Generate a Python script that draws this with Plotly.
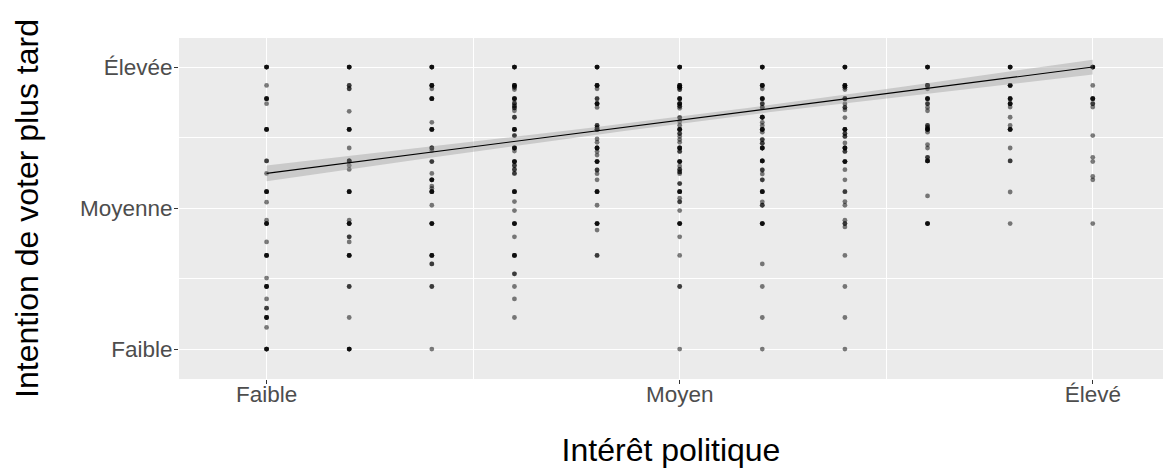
import numpy as np
import plotly.graph_objects as go

# Interest levels (x, 0 = Faible ... 1 = Élevé)
interest_levels = [0.0, 0.1, 0.2, 0.3, 0.4, 0.5, 0.6, 0.7, 0.8, 0.9, 1.0]

# Observed intention scores per interest level: (value, number of overlapping respondents)
level_0 = [(1.000, 4), (0.935, 1), (0.888, 4), (0.870, 1), (0.779, 4), (0.667, 2), (0.623, 1),
           (0.558, 4), (0.521, 1), (0.457, 1), (0.445, 4), (0.380, 1), (0.332, 4), (0.252, 1),
           (0.222, 4), (0.178, 1), (0.145, 2), (0.112, 4), (0.077, 1), (0.000, 4)]
level_1 = [(1.000, 4), (0.935, 2), (0.923, 2), (0.843, 1), (0.779, 4), (0.713, 1), (0.667, 4),
           (0.651, 1), (0.637, 1), (0.558, 4), (0.457, 1), (0.445, 4), (0.398, 2), (0.380, 1),
           (0.332, 4), (0.222, 2), (0.112, 1), (0.000, 4)]
level_2 = [(1.000, 4), (0.935, 4), (0.923, 1), (0.888, 4), (0.804, 1), (0.779, 4), (0.713, 3),
           (0.704, 1), (0.665, 2), (0.623, 1), (0.600, 4), (0.578, 1), (0.570, 1), (0.558, 4),
           (0.510, 1), (0.445, 4), (0.332, 4), (0.302, 2), (0.222, 2), (0.000, 1)]
level_3 = [(1.000, 4), (0.935, 4), (0.928, 2), (0.920, 1), (0.888, 4), (0.872, 2), (0.862, 2),
           (0.855, 2), (0.845, 1), (0.822, 2), (0.779, 4), (0.757, 2), (0.713, 4), (0.702, 1),
           (0.665, 4), (0.651, 2), (0.637, 2), (0.623, 2), (0.558, 4), (0.523, 1), (0.491, 1),
           (0.445, 4), (0.398, 1), (0.332, 4), (0.267, 2), (0.222, 1), (0.178, 1), (0.112, 1)]
level_4 = [(1.000, 4), (0.935, 4), (0.923, 1), (0.888, 2), (0.870, 4), (0.857, 1), (0.793, 2),
           (0.785, 2), (0.779, 4), (0.745, 1), (0.733, 1), (0.713, 4), (0.701, 1), (0.688, 1),
           (0.665, 4), (0.635, 2), (0.622, 1), (0.600, 1), (0.558, 4), (0.510, 1), (0.445, 4),
           (0.422, 1), (0.332, 2)]
level_5 = [(1.000, 4), (0.935, 4), (0.928, 4), (0.920, 2), (0.888, 4), (0.870, 4), (0.861, 2),
           (0.854, 1), (0.821, 2), (0.807, 1), (0.794, 1), (0.779, 4), (0.764, 2), (0.754, 1),
           (0.743, 1), (0.733, 1), (0.713, 4), (0.701, 2), (0.665, 4), (0.649, 1), (0.637, 2),
           (0.628, 2), (0.622, 1), (0.587, 2), (0.558, 4), (0.535, 1), (0.522, 2), (0.491, 1),
           (0.445, 4), (0.398, 1), (0.332, 1), (0.222, 2), (0.000, 1)]
level_6 = [(1.000, 4), (0.935, 4), (0.923, 1), (0.888, 4), (0.870, 2), (0.857, 2), (0.822, 4),
           (0.804, 1), (0.793, 1), (0.779, 4), (0.769, 1), (0.743, 2), (0.730, 2), (0.713, 4),
           (0.667, 4), (0.635, 2), (0.621, 1), (0.600, 2), (0.558, 4), (0.522, 1), (0.510, 2),
           (0.445, 4), (0.302, 1), (0.222, 1), (0.112, 1), (0.000, 1)]
level_7 = [(1.000, 4), (0.935, 4), (0.928, 2), (0.920, 1), (0.888, 4), (0.870, 1), (0.857, 2),
           (0.848, 1), (0.821, 1), (0.779, 4), (0.764, 2), (0.754, 2), (0.731, 1), (0.713, 4),
           (0.701, 2), (0.665, 4), (0.636, 1), (0.600, 1), (0.558, 2), (0.523, 1), (0.510, 1),
           (0.457, 1), (0.445, 2), (0.433, 1), (0.332, 1), (0.222, 1), (0.112, 1), (0.000, 1)]
level_8 = [(1.000, 4), (0.935, 4), (0.923, 1), (0.888, 4), (0.870, 2), (0.857, 1), (0.845, 1),
           (0.793, 2), (0.785, 2), (0.779, 4), (0.769, 1), (0.725, 1), (0.713, 1), (0.680, 2),
           (0.667, 4), (0.543, 1), (0.445, 4)]
level_9 = [(1.000, 4), (0.935, 4), (0.888, 4), (0.870, 4), (0.858, 1), (0.822, 1), (0.793, 1),
           (0.779, 4), (0.713, 1), (0.667, 2), (0.557, 1), (0.445, 1)]
level_10 = [(1.000, 4), (0.935, 1), (0.888, 4), (0.870, 2), (0.858, 1), (0.757, 1), (0.680, 1),
            (0.665, 1), (0.612, 1), (0.600, 1), (0.445, 1)]

levels_data = [level_0, level_1, level_2, level_3, level_4, level_5,
               level_6, level_7, level_8, level_9, level_10]

# Linear trend (geom_smooth, method = "lm")
trend_intercept = 0.623
trend_slope = 0.377
band_min_halfwidth = 0.012
band_center = 0.52
band_curvature = 0.00234

# Tick labels
x_tickvals = [0, 0.5, 1]
x_ticktext = ["Faible", "Moyen", "Élevé"]
y_tickvals = [0, 0.5, 1]
y_ticktext = ["Faible", "Moyenne", "Élevée"]

# ---------------------------------------------------------------
xs, ys = [], []
for lvl, pts in zip(interest_levels, levels_data):
    for v, n in pts:
        for _ in range(n):
            xs.append(lvl)
            ys.append(v)

xf = np.linspace(0, 1, 80)
yf = trend_intercept + trend_slope * xf
hw = np.sqrt(band_min_halfwidth ** 2 + band_curvature * (xf - band_center) ** 2)

fig = go.Figure()
fig.add_trace(go.Scatter(
    x=xs, y=ys, mode="markers",
    marker=dict(color="black", size=4.8, opacity=0.5, line=dict(width=0)),
    hoverinfo="skip", showlegend=False))
fig.add_trace(go.Scatter(
    x=np.concatenate([xf, xf[::-1]]), y=np.concatenate([yf + hw, (yf - hw)[::-1]]),
    fill="toself", fillcolor="rgba(153,153,153,0.4)", line=dict(width=0),
    mode="lines", hoverinfo="skip", showlegend=False))
fig.add_trace(go.Scatter(
    x=xf, y=yf, mode="lines", line=dict(color="black", width=1.1),
    hoverinfo="skip", showlegend=False))

font_family = "Liberation Sans, Arial, Helvetica, sans-serif"
axis_common = dict(
    showline=False, zeroline=False, automargin=False,
    showgrid=True, gridcolor="white", gridwidth=1.4,
    ticks="outside", ticklen=4, tickwidth=1, tickcolor="#333333",
    tickfont=dict(family=font_family, size=22.5, color="#4D4D4D"),
    minor=dict(dtick=0.25, tick0=0, showgrid=True, gridcolor="white", gridwidth=0.7, ticks=""),
)

fig.update_layout(
    width=1169, height=468,
    margin=dict(l=179, r=6, t=38, b=89),
    paper_bgcolor="white", plot_bgcolor="#EBEBEB",
    xaxis=dict(range=[-0.106, 1.085], tickvals=x_tickvals, ticktext=x_ticktext,
               ticklabelstandoff=-9,
               title=dict(text="Intérêt politique", standoff=47,
                          font=dict(family=font_family, size=32, color="black")),
               **axis_common),
    yaxis=dict(range=[-0.106, 1.103], tickvals=y_tickvals, ticktext=y_ticktext,
               ticklabelstandoff=-3,
               title=dict(text="Intention de voter plus tard", standoff=31,
                          font=dict(family=font_family, size=32, color="black")),
               **axis_common),
)

fig.write_html("out.html")
